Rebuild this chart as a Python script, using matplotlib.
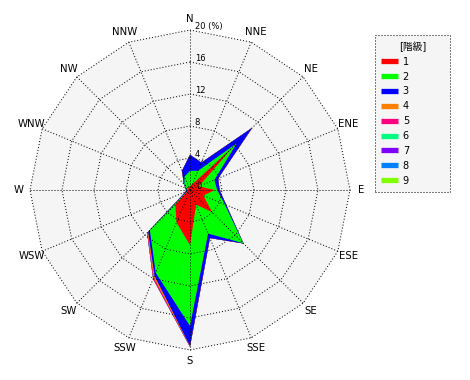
import numpy as np
import matplotlib
matplotlib.use("Agg")
import matplotlib.pyplot as plt
from matplotlib.lines import Line2D

plt.rcParams['font.family'] = ['DejaVu Sans', 'Noto Sans CJK JP']

# 16 wind directions, clockwise from N
directions = ['N', 'NNE', 'NE', 'ENE', 'E', 'ESE', 'SE', 'SSE',
              'S', 'SSW', 'SW', 'WSW', 'W', 'WNW', 'NW', 'NNW']

# frequency (%) per class, per direction
class_1 = [0.5, 0.8, 7.6, 1.2, 3.1, 1.8, 3.9, 2.0, 6.9, 4.4, 2.6, 0.3, 0.3, 0.3, 0.3, 0.4]
class_2 = [1.9, 1.8, 0.65, 2.1, 0.3, 2.9, 5.5, 3.9, 10.1, 6.8, 4.5, 0.1, 0.1, 0.2, 0.7, 1.4]
class_3 = [2.0, 1.1, 2.75, 0.5, 0.3, 0.2, 0.05, 0.6, 2.5, 0.4, 0.3, 0.2, 0.1, 0.1, 0.1, 0.8]
class_4 = [0, 0, 0, 0, 0, 0, 0, 0, 0.05, 0.25, 0.1, 0, 0, 0, 0, 0]
class_5 = [0, 0, 0, 0, 0, 0, 0, 0, 0.05, 0.2, 0.08, 0, 0, 0, 0, 0]
class_6 = [0] * 16
class_7 = [0] * 16
class_8 = [0] * 16
class_9 = [0] * 16

class_labels = ['1', '2', '3', '4', '5', '6', '7', '8', '9']
class_colors = ['#ff0000', '#00ff00', '#0000ff', '#ff8000', '#ff0080',
                '#00ff80', '#8000ff', '#0080ff', '#80ff00']

ring_values = [4, 8, 12, 16, 20]


def main():
    fig = plt.figure(figsize=(4.7, 3.8), dpi=100)
    ax = fig.add_axes([0, 0, 380 / 470, 1])
    ax.set_xlim(-23.75, 23.75)
    ax.set_ylim(-23.75, 23.75)
    ax.axis('off')

    theta = np.deg2rad(np.arange(len(directions)) * 22.5)

    def to_xy(r):
        r = np.asarray(r, dtype=float)
        return r * np.sin(theta), r * np.cos(theta)

    rmax = ring_values[-1]

    # plot area background
    ax.fill(*to_xy(np.full(16, rmax)), color='#f5f5f5', lw=0, zorder=0)

    # stacked classes, outermost first
    classes = np.vstack([class_1, class_2, class_3, class_4, class_5,
                         class_6, class_7, class_8, class_9])
    cum = np.cumsum(classes, axis=0)
    for k in range(len(class_labels) - 1, -1, -1):
        ax.fill(*to_xy(cum[k]), color=class_colors[k], lw=0, zorder=1)

    # polygon grid
    dot = (0, (1, 2))
    for r in ring_values:
        x, y = to_xy(np.full(16, r))
        ax.plot(np.append(x, x[0]), np.append(y, y[0]), color='k',
                lw=0.72, ls=dot, zorder=2)
    for th in theta:
        ax.plot([0, rmax * np.sin(th)], [0, rmax * np.cos(th)], color='k',
                lw=0.72, ls=dot, zorder=2)

    # ring labels
    ax.text(0.8, 0.4, '0', fontsize=6, ha='left', va='center', zorder=3)
    for r in ring_values:
        label = '20 (%)' if r == rmax else str(r)
        ax.text(0.6, r + 0.45, label, fontsize=6, ha='left', va='center', zorder=3)

    # direction labels
    for name, th in zip(directions, theta):
        ax.text(21.4 * np.sin(th), 21.4 * np.cos(th), name, fontsize=7.3,
                ha='center', va='center')

    handles = [Line2D([], [], color=c, lw=3.8, solid_capstyle='butt')
               for c in class_colors]
    leg = fig.legend(handles, class_labels, title='[階級]', loc='upper left',
                     bbox_to_anchor=(375 / 470, 1 - 35 / 380, 75 / 470, 0),
                     mode='expand', fontsize=7, title_fontsize=7,
                     fancybox=False, edgecolor='k', facecolor='#f5f5f5',
                     framealpha=1, handlelength=1.7, handletextpad=0.5,
                     labelspacing=0.5, borderaxespad=0, borderpad=0.65)
    leg.get_frame().set_linestyle(dot)
    leg.get_frame().set_linewidth(0.72)

    fig.savefig('out.png', dpi=100)


if __name__ == "__main__":
    main()
